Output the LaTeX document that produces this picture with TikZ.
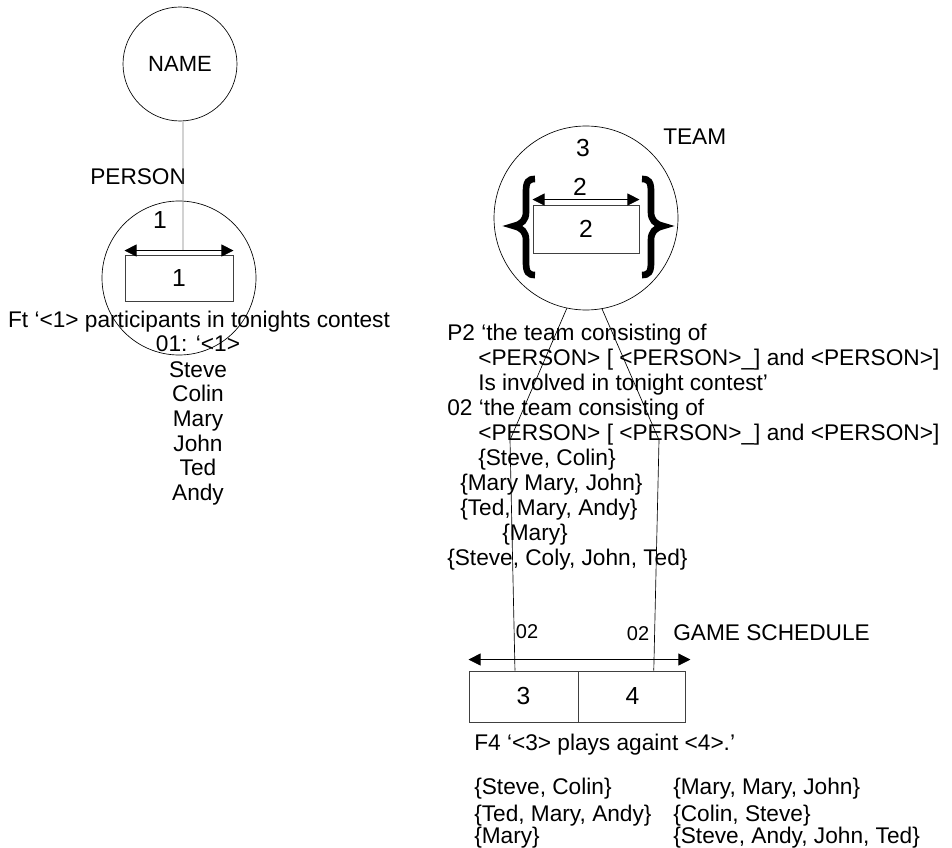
\documentclass[tikz,border=0pt]{standalone}
\usepackage{fontspec}
\setmainfont{Liberation Sans}
\usetikzlibrary{arrows.meta, positioning}

\tikzset{
  lbl/.style={inner sep=0pt, anchor=base west, font=\fontsize{17}{20}\selectfont},
  mid/.style={inner sep=0pt, anchor=base, font=\fontsize{17}{20}\selectfont},
  digit/.style={inner sep=0pt, font=\fontsize{18.5}{21}\selectfont},
  tag/.style={inner sep=0pt, font=\fontsize{15}{17}\selectfont},
  ring/.style={circle, draw, line width=0.5pt, inner sep=0pt},
  cell/.style={rectangle, draw=black!75, line width=0.7pt, inner sep=0pt, font=\fontsize{18.5}{21}\selectfont},
  dim/.style={{Triangle[length=9pt,width=9pt]}-{Triangle[length=9pt,width=9pt]}, line width=0.6pt},
  brace/.style={line width=5pt},
}

\begin{document}
\begin{tikzpicture}[x=0.75pt, y=-0.75pt]
  \useasboundingbox (0,0) rectangle (952,848);

  % person side
  \node[ring, minimum size=85.5pt] (name) at (180,64) {\fontsize{16.5}{19}\selectfont NAME};
  \node[ring, minimum size=115.5pt] (person) at (179,278) {};
  \node[lbl] (personlbl) at (90,185) {PERSON};
  \node[digit] (pnum) at (160,220) {1};
  \node[cell, minimum width=81pt, minimum height=34.5pt] (pbox) at (179,278) {1};
  \coordinate (pjoin) at (183,251);
  \draw[gray, line width=0.6pt] (name.273) -- (pjoin);
  \draw[dim] ([yshift=3pt]pbox.north west) -- ([yshift=3pt]pbox.north east);

  \node[mid] (ft) at (199,327) {Ft ‘<1> participants in tonights contest};
  \node[mid] (ot) at (198,351) {01: ‘<1>};
  \foreach \nm [count=\i] in {Steve, Colin, Mary, John, Ted, Andy}
    \node[mid] (pn\i) at (198,{377+24.7*(\i-1)}) {\nm};

  % team
  \node[ring, minimum size=138pt] (team) at (586,218) {};
  \node[lbl] (teamlbl) at (663,145) {TEAM};
  \node[digit] (tnum) at (583,148) {3};
  \node[digit] (tsub) at (580,187) {2};
  \node[cell, minimum width=79.5pt, minimum height=36pt] (tbox) at (586,229) {2};
  \draw[dim] ([yshift=3.75pt]tbox.north west) -- ([yshift=3.75pt]tbox.north east);
  \draw[brace] (535,179) .. controls (528,179) and (526,182) .. (526,192) -- (526,212)
    .. controls (526,220) and (522,224) .. (514,226) .. controls (522,228) and (526,232) .. (526,240)
    -- (526,262) .. controls (526,272) and (528,275) .. (535,275);
  \draw[brace] (642,179) .. controls (649,179) and (651,182) .. (651,192) -- (651,212)
    .. controls (651,220) and (655,224) .. (663,226) .. controls (655,228) and (651,232) .. (651,240)
    -- (651,262) .. controls (651,272) and (649,275) .. (642,275);

  \node[lbl] (p2a) at (447,340) {P2 ‘the team consisting of};
  \node[lbl] (p2b) at (478,365) {<PERSON> [ <PERSON>\_] and <PERSON>]};
  \node[lbl] (p2c) at (478,390) {Is involved in tonight contest’};
  \node[lbl] (o2a) at (447,415) {02 ‘the team consisting of};
  \node[lbl] (o2b) at (478,440) {<PERSON> [ <PERSON>\_] and <PERSON>]};
  \node[lbl] (o2c) at (478,465) {\{Steve, Colin\}};
  \node[lbl] (o2d) at (460,490) {\{Mary Mary, John\}};
  \node[lbl] (o2e) at (460,515) {\{Ted, Mary, Andy\}};
  \node[lbl] (o2f) at (502,540) {\{Mary\}};
  \node[lbl] (o2g) at (447,565) {\{Steve, Coly, John, Ted\}};

  % game schedule
  \node[cell, minimum width=81.75pt, minimum height=38.25pt] (cell3) at (523.5,696.5) {3};
  \node[cell, minimum width=80.25pt, minimum height=38.25pt, right=0pt of cell3] (cell4) {4};
  \draw[dim] ([yshift=8.25pt]cell3.north west) -- ([xshift=3pt, yshift=8.25pt]cell4.north east);
  \node[tag] (gl) at (527,632) {02};
  \node[tag] (gr) at (638,634) {02};
  \node[lbl] (gamelbl) at (673,640) {GAME SCHEDULE};

  \coordinate (bendL) at (510,440);
  \coordinate (bendR) at (659,440);
  \draw[line width=0.5pt] (team.258) -- (bendL) -- ([xshift=-6.4pt]cell3.north);
  \draw[line width=0.5pt] (team.280) -- (bendR) -- ([xshift=16pt]cell4.north);

  \node[lbl] (f4) at (474,750) {F4 ‘<3> plays againt <4>.’};
  \node[lbl] (la) at (474,794) {\{Steve, Colin\}};
  \node[lbl] (lb) at (474,821) {\{Ted, Mary, Andy\}};
  \node[lbl] (lc) at (474,843) {\{Mary\}};
  \node[lbl] (ra) at (673,794) {\{Mary, Mary, John\}};
  \node[lbl] (rb) at (673,821) {\{Colin, Steve\}};
  \node[lbl] (rc) at (673,843) {\{Steve, Andy, John, Ted\}};
\end{tikzpicture}
\end{document}
